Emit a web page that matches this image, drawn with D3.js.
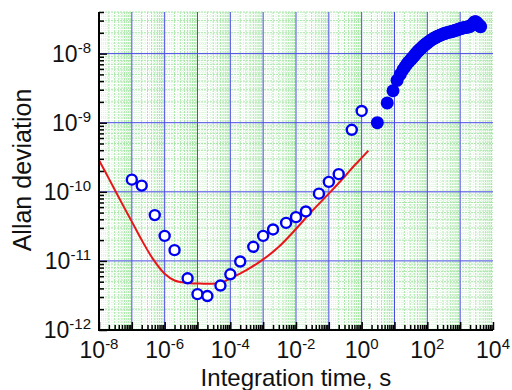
<!DOCTYPE html>
<html>
<head>
<meta charset="utf-8">
<script src="https://cdn.jsdelivr.net/npm/d3@7"></script>
<style>
  body { margin: 0; background: #fff; }
  svg { display: block; font-family: "Liberation Sans", Arial, sans-serif; }
</style>
</head>
<body>
<div id="chart"></div>
<script>
// measured points (open circles)
const openTau = [1e-7, 2e-7, 5e-7, 1e-6, 2e-6, 5e-6, 1e-5, 2e-5, 5e-5, 1e-4, 2e-4, 5e-4,
    1e-3, 2e-3, 5e-3, 1e-2, 2e-2, 5e-2, 0.1, 0.2, 0.5, 1.0];
const openSigma = [1.5e-10, 1.23e-10, 4.6e-11, 2.3e-11, 1.43e-11, 5.6e-12, 3.3e-12, 3.1e-12, 4.4e-12,
    6.4e-12, 9.8e-12, 1.6e-11, 2.3e-11, 2.85e-11, 3.55e-11, 4.3e-11, 5.2e-11, 9.4e-11, 1.39e-10,
    1.8e-10, 7.9e-10, 1.48e-9];

// filled circles (long run)
const fullTau = [3, 6, 9, 12, 15, 18, 21, 24, 27, 30, 33, 36, 39, 42, 45, 48, 51, 54, 57, 60,
    66, 72, 78, 84, 90, 96, 108, 120, 135, 150, 165, 180, 195, 210, 240, 270, 300, 330, 360,
    420, 480, 540, 600, 660, 720, 810, 900, 1000, 1100, 1200, 1350, 1500, 1650, 1800, 2000,
    2200, 2400, 2600, 2800, 3000, 3200, 3400, 3600, 3800, 4000, 4200];
const fullSigma = [1.0e-9, 1.93e-9, 2.9e-9, 4.1e-9, 5.0e-9, 5.8e-9, 6.5e-9, 7.1e-9, 7.6e-9, 8.0e-9,
    8.4e-9, 8.8e-9, 9.2e-9, 9.6e-9, 1.0e-8, 1.04e-8, 1.07e-8, 1.1e-8, 1.13e-8, 1.16e-8,
    1.21e-8, 1.26e-8, 1.3e-8, 1.34e-8, 1.38e-8, 1.41e-8, 1.47e-8, 1.53e-8, 1.59e-8, 1.64e-8,
    1.68e-8, 1.72e-8, 1.76e-8, 1.79e-8, 1.84e-8, 1.88e-8, 1.92e-8, 1.95e-8, 1.98e-8,
    2.02e-8, 2.05e-8, 2.08e-8, 2.11e-8, 2.14e-8, 2.17e-8, 2.21e-8, 2.25e-8, 2.29e-8, 2.32e-8,
    2.35e-8, 2.38e-8, 2.4e-8, 2.42e-8, 2.44e-8, 2.48e-8, 2.55e-8, 2.68e-8, 2.82e-8, 2.9e-8,
    2.88e-8, 2.8e-8, 2.7e-8, 2.62e-8, 2.55e-8, 2.5e-8, 2.45e-8];

// red model curve
const modelTau = [1e-8, 2e-8, 5e-8, 1e-7, 2e-7, 4.5e-7, 1e-6, 2e-6, 5e-6, 1.2e-5, 5e-5, 1e-4,
    3e-4, 1e-3, 3e-3, 1e-2, 3e-2, 0.1, 0.3, 0.6, 1.0, 1.6];
const modelSigma = [2.86e-10, 1.55e-10, 6.8e-11, 3.7e-11, 2.0e-11, 1.05e-11, 6.5e-12, 5.2e-12,
    4.8e-12, 4.7e-12, 4.8e-12, 5.6e-12, 7.3e-12, 1.05e-11, 1.6e-11, 2.9e-11, 5.2e-11, 9.4e-11,
    1.65e-10, 2.4e-10, 3.1e-10, 3.95e-10];

const xTicks = [1e-8, 1e-6, 1e-4, 1e-2, 1e0, 1e2, 1e4];
const xTickLabels = ['-8', '-6', '-4', '-2', '0', '2', '4'];
const yTicks = [1e-12, 1e-11, 1e-10, 1e-9, 1e-8];
const yTickLabels = ['-12', '-11', '-10', '-9', '-8'];

const width = 512, height = 390;
const plot = { left: 99, right: 493, top: 12, bottom: 330 };

let svg = d3.select('#chart').append('svg')
    .attr('width', width)
    .attr('height', height);
svg.append('rect').attr('width', width).attr('height', height).attr('fill', '#fff');

let x = d3.scaleLog().domain([1e-8, 1e4]).range([plot.left, plot.right]);
let y = d3.scaleLog().domain([1e-12, 4e-8]).range([plot.bottom, plot.top]);

// grid values per decade
function decadeValues(lo, hi, steps) {
    let out = [];
    for (let e = Math.floor(Math.log10(lo)); e <= Math.ceil(Math.log10(hi)); e++) {
        steps.forEach(k => {
            let v = k * Math.pow(10, e);
            if (v >= lo * 0.999 && v <= hi * 1.001) out.push(v);
        });
    }
    return out;
}
const fineSteps = [1.2, 1.4, 1.6, 1.8, 2.5, 3.5, 4.5, 5.5, 6.5, 7.5, 8.5, 9.5];
const minorSteps = [2, 3, 4, 5, 6, 7, 8, 9];

let grid = svg.append('g').classed('grid', true);
function vlines(vals, color, w, dash) {
    grid.append('g').selectAll('line').data(vals).enter().append('line')
        .attr('x1', d => x(d)).attr('x2', d => x(d))
        .attr('y1', plot.top).attr('y2', plot.bottom)
        .attr('stroke', color).attr('stroke-width', w)
        .attr('stroke-dasharray', dash);
}
function hlines(vals, color, w, dash) {
    grid.append('g').selectAll('line').data(vals).enter().append('line')
        .attr('y1', d => y(d)).attr('y2', d => y(d))
        .attr('x1', plot.left).attr('x2', plot.right)
        .attr('stroke', color).attr('stroke-width', w)
        .attr('stroke-dasharray', dash);
}
vlines(decadeValues(1e-8, 1e4, fineSteps), '#dcf6dc', 1, '1,1');
hlines(decadeValues(1e-12, 4e-8, fineSteps), '#dcf6dc', 1, '1,1');
vlines(decadeValues(1e-8, 1e4, minorSteps), '#a8e6a8', 1, '2,1');
hlines(decadeValues(1e-12, 4e-8, minorSteps), '#a8e6a8', 1, '2,1');
// major decade lines
vlines(decadeValues(1e-7, 1e3, [1]), '#4a4ae6', 1, null);
hlines(decadeValues(1e-11, 1e-8, [1]), '#4a4ae6', 1, null);

// model line
let line = d3.line()
    .x(d => x(d[0]))
    .y(d => y(d[1]))
    .curve(d3.curveCatmullRom.alpha(0.5));
svg.append('path')
    .datum(modelTau.map((t, i) => [t, modelSigma[i]]))
    .attr('d', line)
    .attr('fill', 'none')
    .attr('stroke', '#e8161a')
    .attr('stroke-width', 2);

// open circles
svg.append('g').selectAll('circle')
    .data(openTau.map((t, i) => [t, openSigma[i]]))
    .enter().append('circle')
    .attr('cx', d => x(d[0]))
    .attr('cy', d => y(d[1]))
    .attr('r', 5)
    .attr('fill', '#fff')
    .attr('stroke', '#0000f0')
    .attr('stroke-width', 2.4);

// filled circles
svg.append('g').selectAll('circle')
    .data(fullTau.map((t, i) => [t, fullSigma[i]]))
    .enter().append('circle')
    .attr('cx', d => x(d[0]))
    .attr('cy', d => y(d[1]))
    .attr('r', 6.5)
    .attr('fill', '#0000f0');

// axes
let xAxis = d3.axisBottom(x)
    .tickValues(decadeValues(1e-8, 1e4, [1, 2, 3, 4, 5, 6, 7, 8, 9]))
    .tickSize(0).tickFormat('');
let gx = svg.append('g').attr('transform', `translate(0,${plot.bottom})`).call(xAxis);
gx.select('.domain').remove();
gx.selectAll('.tick line')
    .attr('y2', d => Math.abs(Math.log10(d) - Math.round(Math.log10(d))) < 1e-6 ? -8 : -5)
    .attr('stroke', '#000').attr('stroke-width', 1.5);

let yAxis = d3.axisLeft(y)
    .tickValues(decadeValues(1e-12, 4e-8, [1, 2, 3, 4, 5, 6, 7, 8, 9]))
    .tickSize(0).tickFormat('');
let gy = svg.append('g').attr('transform', `translate(${plot.left},0)`).call(yAxis);
gy.select('.domain').remove();
gy.selectAll('.tick line')
    .attr('x2', d => Math.abs(Math.log10(d) - Math.round(Math.log10(d))) < 1e-6 ? 8 : 5)
    .attr('stroke', '#000').attr('stroke-width', 1.5);

svg.append('line')
    .attr('x1', plot.left).attr('x2', plot.left)
    .attr('y1', plot.top).attr('y2', plot.bottom + 1)
    .attr('stroke', '#000').attr('stroke-width', 2);
svg.append('line')
    .attr('x1', plot.left - 1).attr('x2', plot.right)
    .attr('y1', plot.bottom).attr('y2', plot.bottom)
    .attr('stroke', '#000').attr('stroke-width', 2);

// tick labels with superscripts
let xl = svg.append('g').selectAll('text').data(xTicks).enter().append('text')
    .attr('x', d => x(d))
    .attr('y', 358)
    .attr('text-anchor', 'middle')
    .attr('font-size', 23)
    .attr('fill', '#111');
xl.append('tspan').text('10');
xl.append('tspan').attr('dy', -9).attr('font-size', 15).text((d, i) => xTickLabels[i]);

let yl = svg.append('g').selectAll('text').data(yTicks).enter().append('text')
    .attr('x', 91)
    .attr('y', d => y(d) + 8)
    .attr('text-anchor', 'end')
    .attr('font-size', 23)
    .attr('fill', '#111');
yl.append('tspan').text('10');
yl.append('tspan').attr('dy', -9).attr('font-size', 15).text((d, i) => yTickLabels[i]);

// axis titles
svg.append('text')
    .attr('x', 296).attr('y', 386)
    .attr('text-anchor', 'middle')
    .attr('font-size', 24)
    .attr('fill', '#111')
    .text('Integration time, s');
svg.append('text')
    .attr('transform', 'translate(31,170) rotate(-90)')
    .attr('text-anchor', 'middle')
    .attr('font-size', 25)
    .attr('fill', '#111')
    .text('Allan deviation');
</script>
</body>
</html>
